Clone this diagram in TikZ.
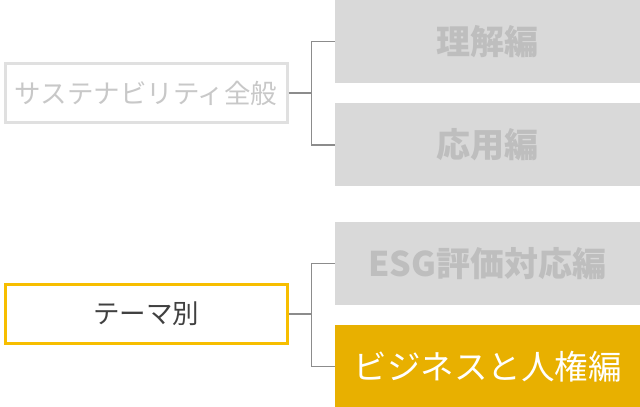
\documentclass[tikz,border=0pt]{standalone}
\usepackage{fontspec}
\newfontfamily\jpfont{Noto Sans CJK JP}
\usetikzlibrary{positioning}
\definecolor{framegray}{RGB}{224,224,224}
\definecolor{labelgray}{RGB}{200,200,200}
\definecolor{fillgray}{RGB}{217,217,217}
\definecolor{textgray}{RGB}{190,190,190}
\definecolor{darktext}{RGB}{64,64,64}
\definecolor{frameyellow}{RGB}{247,190,0}
\definecolor{fillyellow}{RGB}{232,176,0}
\definecolor{linegray}{RGB}{140,140,140}
\tikzset{
    % Define standard node styles
    topicbox/.style={
        rectangle, draw=framegray, line width=3pt, fill=white,
        minimum width=282pt, minimum height=59pt, inner sep=0pt,
        text=labelgray, font=\jpfont\fontsize{26.5}{30}\selectfont
    },
    editionbox/.style={
        rectangle, draw=none, fill=fillgray,
        minimum width=305pt, minimum height=83pt, inner sep=0pt,
        text=textgray, font=\jpfont\bfseries\fontsize{34}{38}\selectfont
    },
    linkline/.style={
        line width=1.5pt, color=linegray
    }
}
\begin{document}
\begin{tikzpicture}[x=1pt, y=1pt]
\useasboundingbox (0,0) rectangle (640,-407);

% Left topic boxes
\node[topicbox] (general) at (146,-93) {サステナビリティ全般};
\node[topicbox, draw=frameyellow, text=darktext] (theme) at (146,-314) {テーマ別};

% Right edition boxes
\node[editionbox] (basic) at (487.5,-41.5) {理解編};
\node[editionbox, below=20pt of basic] (applied) {応用編};
\node[editionbox, below=35pt of applied] (esg) {ESG評価対応編};
\node[editionbox, below=20pt of esg, fill=fillyellow, text=white,
      font=\jpfont\fontsize{33.5}{38}\selectfont] (rights) {ビジネスと人権編};

% Branch points
\coordinate (gensplit) at (311.5,-93);
\coordinate (themesplit) at (311.5,-314);

% Connectors
\draw[linkline] (general) -- (gensplit);
\draw[linkline] (gensplit) |- (basic);
\draw[linkline] (gensplit) |- (applied);
\draw[linkline] (theme) -- (themesplit);
\draw[linkline] (themesplit) |- (esg);
\draw[linkline] (themesplit) |- (rights);

\end{tikzpicture}
\end{document}
